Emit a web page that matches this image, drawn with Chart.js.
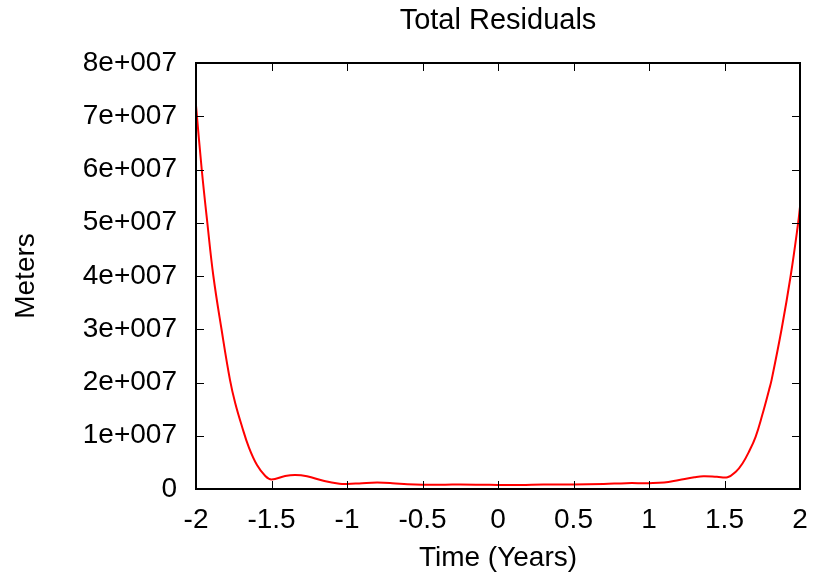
<!DOCTYPE html>
<html>
<head>
<meta charset="utf-8">
<script src="https://cdn.jsdelivr.net/npm/chart.js@4/dist/chart.umd.min.js"></script>
<style>
	html, body { margin: 0; padding: 0; background: #fff; }
	canvas { display: block; }
</style>
</head>
<body>
<canvas id="chart" width="816" height="583"></canvas>
<script>
// values
const timeYears = [
	-2, -1.962, -1.925, -1.885, -1.831, -1.775, -1.74, -1.695, -1.651,
	-1.596, -1.541, -1.5, -1.41, -1.343, -1.265, -1.15, -1.05, -1, -0.9,
	-0.8, -0.7, -0.6, -0.5, -0.35, -0.25, -0.1, 0, 0.15, 0.3,
	0.5, 0.7, 0.85, 1, 1.1, 1.2, 1.3, 1.36, 1.45, 1.52,
	1.575, 1.619, 1.662, 1.706, 1.75, 1.795, 1.812, 1.878, 1.938, 1.988, 2
];
const residualMeters = [
	72e6, 60e6, 50e6, 40e6, 30e6, 20.5e6, 16.1e6, 11.7e6, 7.9e6,
	4.5e6, 2.45e6, 1.8e6, 2.45e6, 2.65e6, 2.4e6, 1.5e6, 1.0e6, 0.95e6, 1.1e6,
	1.2e6, 1.1e6, 0.9e6, 0.8e6, 0.8e6, 0.85e6, 0.8e6, 0.75e6, 0.75e6, 0.85e6,
	0.85e6, 0.95e6, 1.1e6, 1.1e6, 1.2e6, 1.7e6, 2.2e6, 2.4e6, 2.3e6, 2.2e6,
	3.25e6, 4.8e6, 7.0e6, 9.8e6, 13.9e6, 18.6e6, 20.5e6, 30e6, 40e6, 50e6, 53e6
];
const xTickLabels = ["-2", "-1.5", "-1", "-0.5", "0", "0.5", "1", "1.5", "2"];
const yTickLabels = ["0", "1e+007", "2e+007", "3e+007", "4e+007", "5e+007", "6e+007", "7e+007", "8e+007"];
const chartTitle = "Total Residuals";

const font = { family: "'Liberation Sans', Arial, sans-serif", size: 28 };

// gnuplot style frame: full border with inward ticks mirrored on all sides,
// title centred over the plot box
const framePlugin = {
	id: "frame",
	afterDraw(chart) {
		const { ctx, chartArea: a, scales } = chart;
		const len = 8;
		ctx.save();
		ctx.strokeStyle = "#000";
		ctx.lineWidth = 1;
		ctx.beginPath();
		for (const t of scales.x.ticks) {
			const px = Math.round(scales.x.getPixelForValue(t.value)) + 0.5;
			ctx.moveTo(px, a.bottom); ctx.lineTo(px, a.bottom - len);
			ctx.moveTo(px, a.top); ctx.lineTo(px, a.top + len);
		}
		for (const t of scales.y.ticks) {
			const py = Math.round(scales.y.getPixelForValue(t.value)) + 0.5;
			ctx.moveTo(a.left, py); ctx.lineTo(a.left + len, py);
			ctx.moveTo(a.right, py); ctx.lineTo(a.right - len, py);
		}
		ctx.stroke();
		ctx.lineWidth = 2;
		ctx.strokeRect(a.left, a.top, a.right - a.left, a.bottom - a.top);

		ctx.fillStyle = "#000";
		ctx.font = `29px ${font.family}`;
		ctx.textAlign = "center";
		ctx.textBaseline = "alphabetic";
		ctx.fillText(chartTitle, (a.left + a.right) / 2, 29);
		ctx.restore();
	}
};

new Chart(document.getElementById("chart"), {
	type: "line",
	data: {
		datasets: [{
			label: chartTitle,
			data: timeYears.map((x, i) => ({ x, y: residualMeters[i] })),
			borderColor: "#ff0000",
			borderWidth: 2,
			pointRadius: 0,
			tension: 0.4,
			fill: false
		}]
	},
	options: {
		responsive: false,
		animation: false,
		layout: { padding: { left: 0, right: 16, top: 63, bottom: 0 } },
		scales: {
			x: {
				type: "linear",
				min: -2,
				max: 2,
				grid: { display: false, drawTicks: false },
				border: { display: false },
				afterFit(scale) {
					scale.height = 94;
					// labels at the ends may overhang; keep the plot box fixed
					scale.paddingLeft = 0;
					scale.paddingRight = 0;
				},
				ticks: {
					stepSize: 0.5,
					padding: 14,
					color: "#000",
					font,
					maxRotation: 0,
					callback(v, i) { return xTickLabels[i]; }
				},
				title: {
					display: true,
					text: "Time (Years)",
					color: "#000",
					font,
					padding: { top: 0, bottom: 8 }
				}
			},
			y: {
				min: 0,
				max: 8e7,
				grid: { display: false, drawTicks: false },
				border: { display: false },
				afterFit(scale) {
					scale.width = 196;
					scale.paddingTop = 0;
					scale.paddingBottom = 0;
				},
				ticks: {
					stepSize: 1e7,
					padding: 19,
					color: "#000",
					font,
					callback(v, i) { return yTickLabels[i]; }
				},
				title: {
					display: true,
					text: "Meters",
					color: "#000",
					font,
					padding: { top: 9, bottom: 0 }
				}
			}
		},
		plugins: {
			legend: { display: false },
			tooltip: { enabled: false },
			title: { display: false }
		}
	},
	plugins: [framePlugin]
});
</script>
</body>
</html>
